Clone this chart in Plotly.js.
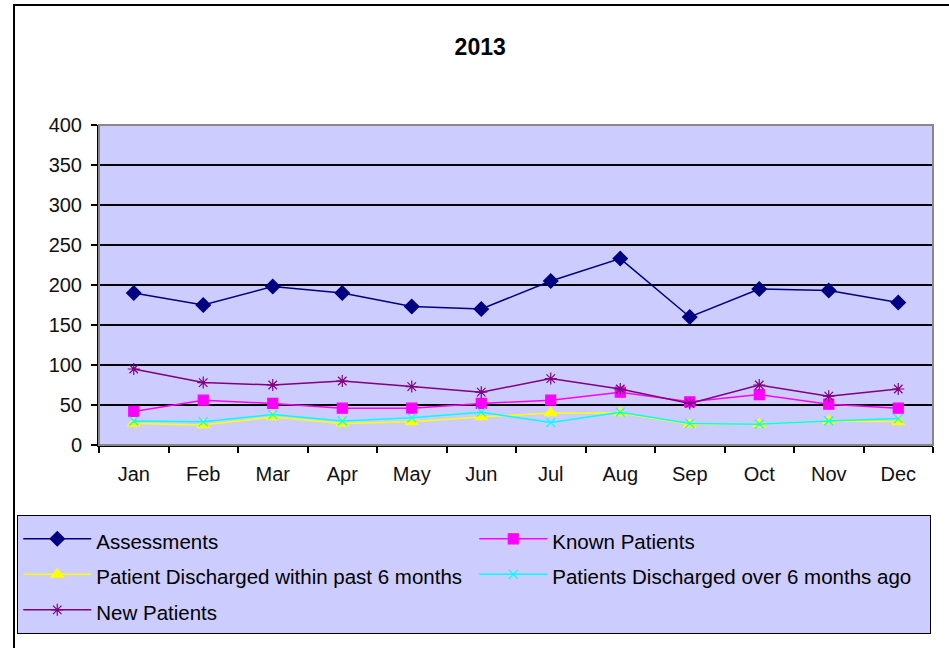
<!DOCTYPE html>
<html>
<head>
<meta charset="utf-8">
<script src="https://cdn.plot.ly/plotly-3.0.1.min.js"></script>
<style>
  html, body { margin: 0; padding: 0; background: #fff; }
  #chart { width: 949px; height: 648px; }
</style>
</head>
<body>
<div id="chart"></div>
<script>
var months = ['Jan', 'Feb', 'Mar', 'Apr', 'May', 'Jun', 'Jul', 'Aug', 'Sep', 'Oct', 'Nov', 'Dec'];

var assessments = [190, 175, 198, 190, 173, 170, 205, 233, 160, 195, 193, 178];
var knownPatients = [42, 56, 52, 46, 46, 52, 56, 66, 54, 63, 51, 46];
var dischargedWithin6 = [27, 25, 35, 27, 29, 35, 40, 40, 26, 26, 30, 29];
var dischargedOver6 = [30, 29, 38, 30, 34, 41, 28, 41, 27, 26, 30, 33];
var newPatients = [95, 78, 75, 80, 73, 66, 83, 70, 52, 75, 61, 70];

var yTicks = [0, 50, 100, 150, 200, 250, 300, 350, 400];

var FONT = 'Liberation Sans, Arial, sans-serif';

// legend rows are taller than the text, so the legend font is big and the label smaller
function series(name, values, color, symbol, size) {
    return {
        x: months,
        y: values,
        name: '<span style="font-size:20.5px">' + name + '</span>',
        type: 'scatter',
        mode: 'lines+markers',
        line: {color: color, width: 1.5},
        marker: {
            symbol: symbol,
            size: size,
            color: color,
            line: {color: color, width: 1.2}
        }
    };
}

var data = [
    series('Assessments', assessments, '#000080', 'diamond', 11),
    series('Known Patients', knownPatients, '#ff00ff', 'square', 10),
    series('Patient Discharged within past 6 months', dischargedWithin6, '#ffff00', 'triangle-up', 11),
    series('Patients Discharged over 6 months ago', dischargedOver6, '#00ffff', 'x-thin', 9),
    series('New Patients', newPatients, '#800080', 'asterisk', 10)
];

var layout = {
    width: 949,
    height: 648,
    margin: {l: 99, r: 16, t: 125, b: 203, autoexpand: false},
    paper_bgcolor: '#ffffff',
    plot_bgcolor: '#ccccff',
    font: {family: FONT, size: 20, color: '#111'},
    title: {
        text: '<b>2013</b>',
        font: {family: FONT, size: 23, color: '#000'},
        x: 0.506,
        xanchor: 'center',
        y: 0.927,
        yanchor: 'middle'
    },
    xaxis: {
        type: 'category',
        range: [-0.5, 11.5],
        showgrid: false,
        showline: true,
        linecolor: '#000',
        linewidth: 2,
        ticks: 'outside',
        tickson: 'boundaries',
        ticklen: 6,
        tickwidth: 2,
        tickcolor: '#000',
        ticklabelstandoff: 10,
        tickfont: {family: FONT, size: 20, color: '#111'},
        fixedrange: true
    },
    yaxis: {
        range: [0, 400],
        tickvals: yTicks,
        ticktext: yTicks.map(String),
        showgrid: true,
        gridcolor: '#000',
        gridwidth: 1.5,
        zeroline: false,
        showline: true,
        linecolor: '#000',
        linewidth: 2,
        ticks: 'outside',
        ticklen: 6,
        tickwidth: 2,
        tickcolor: '#000',
        ticklabelstandoff: 5,
        tickfont: {family: FONT, size: 20, color: '#111'},
        fixedrange: true
    },
    showlegend: true,
    legend: {
        orientation: 'h',
        x: -0.098,
        xanchor: 'left',
        y: -0.219,
        yanchor: 'top',
        bgcolor: '#ccccff',
        bordercolor: '#000',
        borderwidth: 1,
        itemwidth: 68,
        entrywidth: 373,
        entrywidthmode: 'pixels',
        traceorder: 'normal',
        font: {family: FONT, size: 25, color: '#000'}
    },
    shapes: [
        // outer chart frame
        {type: 'rect', xref: 'paper', yref: 'paper', x0: -0.1019, x1: 1.2, y0: -0.7, y1: 1.375,
         line: {color: '#000', width: 2}, layer: 'below'},
        // grey border round the plot area (top and right show)
        {type: 'rect', xref: 'paper', yref: 'paper', x0: 0, x1: 1, y0: 0, y1: 1,
         line: {color: '#888', width: 2}, layer: 'above'}
    ]
};

Plotly.newPlot('chart', data, layout, {displayModeBar: false, staticPlot: true});
</script>
</body>
</html>
